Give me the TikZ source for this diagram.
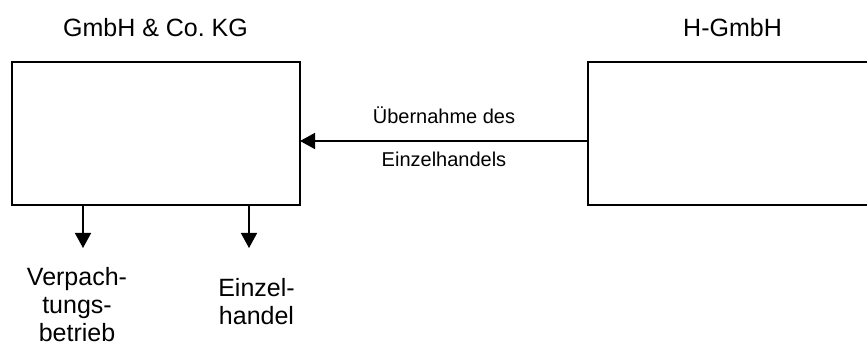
\documentclass[tikz,border=0pt]{standalone}
\usepackage{fontspec}
\setmainfont{Liberation Sans}
\usetikzlibrary{arrows.meta}

\begin{document}
\begin{tikzpicture}[x=1pt,y=-1pt,
  box/.style={draw, line width=1.5pt, inner sep=0pt, outer sep=0pt, anchor=north west},
  title/.style={font=\fontsize{25}{30}\selectfont, anchor=base, inner sep=0pt},
  flowlabel/.style={font=\fontsize{20}{24}\selectfont, anchor=base, inner sep=0pt},
  unitlabel/.style={font=\fontsize{25}{28}\selectfont, align=center, anchor=north, inner sep=0pt},
  flow/.style={line width=1.5pt, -{Triangle[length=15pt,width=16pt]}}]
  \clip (0,0) rectangle (867,347);

  % companies
  \node[box, minimum width=288pt, minimum height=143pt] (kg) at (12,62) {};
  \node[box, minimum width=340pt, minimum height=143pt] (hg) at (588,62) {};
  \node[title] (kgname) at (155.5,36.7) {GmbH \& Co.\ KG};
  \node[title] (hgname) at (732.5,36.7) {H-GmbH};

  % transfer of the retail business
  \draw[flow] ([yshift=-7.5pt]hg.west) -- ([yshift=-7.5pt]kg.east);
  \node[flowlabel] (ltop) at (444,124) {Übernahme des};
  \node[flowlabel] (lbot) at (444,167) {Einzelhandels};

  % resulting business units
  \coordinate (tipa) at (83,248);
  \coordinate (tipb) at (249,248);
  \draw[flow] (kg.south -| tipa) -- (tipa);
  \draw[flow] (kg.south -| tipb) -- (tipb);
  \node[unitlabel] (ua) at (77,267) {Verpach-\\tungs-\\betrieb};
  \node[unitlabel] (ub) at (256.5,278) {Einzel-\\handel};
\end{tikzpicture}
\end{document}
